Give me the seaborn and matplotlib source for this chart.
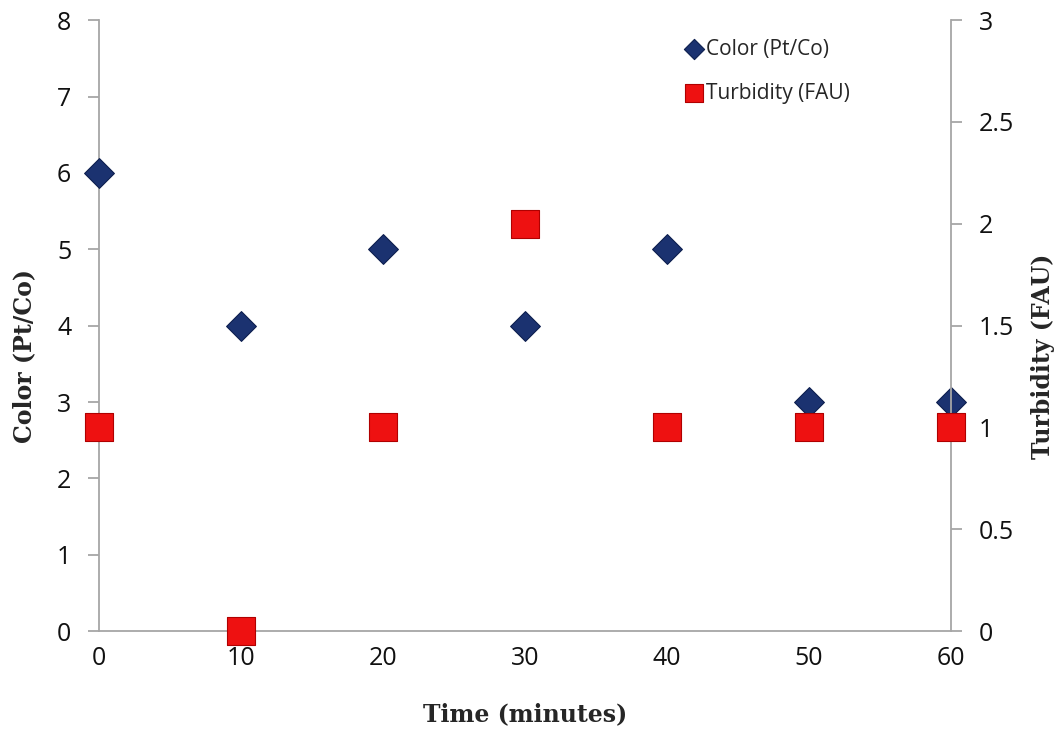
import numpy as np
import pandas as pd
import matplotlib
matplotlib.use("Agg")
import matplotlib.pyplot as plt
import seaborn as sns

# data
time_min = [0, 10, 20, 30, 40, 50, 60]
color_ptco = [6, 4, 5, 4, 5, 3, 3]
turbidity_fau = [1, 0, 1, 2, 1, 1, 1]

data = pd.DataFrame({"time": time_min, "color": color_ptco, "turbidity": turbidity_fau})

sns.set_style("white")
plt.rcParams['font.family'] = ['Open Sans', 'DejaVu Sans']

fig = plt.figure(figsize=(10.58, 7.46), dpi=100)
ax = fig.add_axes([0.0936, 0.154, 0.805, 0.819])
ax2 = ax.twinx()

sns.scatterplot(data=data, x="time", y="color", marker="D", s=230, color="#1b3270",
                edgecolor="#0d1f4f", linewidth=0.8, ax=ax, zorder=3, clip_on=False,
                label="Color (Pt/Co)", legend=False)
sns.scatterplot(data=data, x="time", y="turbidity", marker="s", s=380, color="#ee1111",
                edgecolor="#b00000", linewidth=0.8, ax=ax2, zorder=3, clip_on=False,
                label="Turbidity (FAU)", legend=False)

ax.set_xlim(0, 60)
ax.set_ylim(0, 8)
ax2.set_ylim(0, 3)
ax.set_xticks(time_min)
ax.set_yticks(range(0, 9))
ax2.set_yticks([0, 0.5, 1, 1.5, 2, 2.5, 3])
ax2.set_yticklabels(["0", "0.5", "1", "1.5", "2", "2.5", "3"])

for a in (ax, ax2):
    a.spines['top'].set_visible(False)
    for s in a.spines.values():
        s.set_color("#a6a6a6")
        s.set_linewidth(1.3)
    a.tick_params(labelsize=18, colors="#a6a6a6", labelcolor="#111111",
                  length=8, width=1.3, direction="out", pad=12)
ax.spines['right'].set_visible(False)
ax2.spines['left'].set_visible(False)
ax2.spines['bottom'].set_visible(False)
ax.tick_params(axis="x", direction="inout", length=16, pad=3)

serif = ["DejaVu Serif"]
ax.set_xlabel("Time (minutes)", fontsize=17, fontweight="bold", family=serif, labelpad=22)
ax.set_ylabel("Color (Pt/Co)", fontsize=17, fontweight="bold", family=serif)
ax2.set_ylabel("Turbidity (FAU)", fontsize=17, fontweight="bold", family=serif, rotation=90)
# labels sit a bit below the middle in the original
ax.yaxis.set_label_coords(-0.074, 0.45)
ax2.yaxis.set_label_coords(1.094, 0.45)

h1, l1 = ax.get_legend_handles_labels()
h2, l2 = ax2.get_legend_handles_labels()
leg = ax2.legend(h1 + h2, l1 + l2, loc="upper left", bbox_to_anchor=(0.664, 1.0),
                 frameon=False, fontsize=15, markerscale=0.68, handletextpad=0.1,
                 labelspacing=1.1, handlelength=1.0)

fig.savefig("out.png", dpi=100)
